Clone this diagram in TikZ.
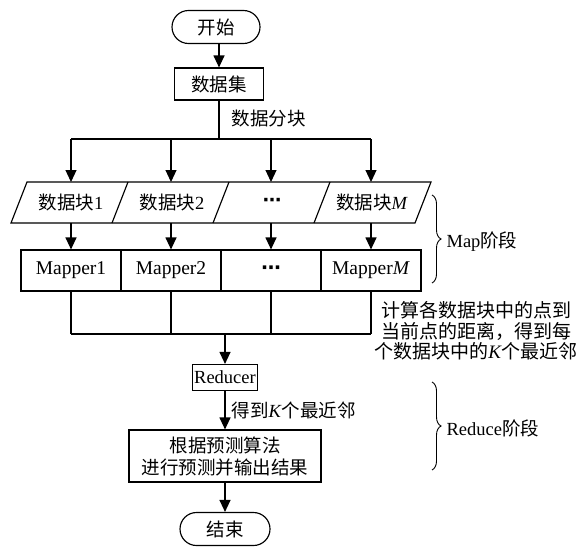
\documentclass[tikz,border=0pt]{standalone}
\usepackage{fontspec}
\setmainfont{Liberation Serif}
\newfontfamily\cjk{Noto Sans CJK SC}
\newfontfamily\dv{DejaVu Sans}
\usetikzlibrary{arrows.meta,decorations.pathreplacing}
\newcommand{\mydots}{{\dv\bfseries ⋯}}
\begin{document}
\begin{tikzpicture}[x=1pt,y=-1pt,
  line width=1.15pt,
  font=\fontsize{18.5}{21}\selectfont,
  arr/.style={-{Triangle[length=12pt,width=11pt]}},
  box/.style={draw,rectangle,inner sep=0pt},
  term/.style={draw,rectangle,rounded corners=16.5pt,inner sep=0pt,minimum width=88pt,minimum height=33pt},
  blk/.style={inner sep=0pt,minimum height=41pt},
  mbox/.style={box,minimum width=100pt,minimum height=41pt,font=\fontsize{19.5}{21}\selectfont},
  lbl/.style={inner sep=0pt,anchor=west},
  brc/.style={decorate,decoration={brace,amplitude=9pt},line width=0.9pt}
]
\useasboundingbox (0,0) rectangle (577,546);

% top part
\node[term] (start) at (216,27) {{\cjk 开始}};
\node[box,minimum width=89pt,minimum height=32pt] (data) at (219,84) {{\cjk 数据集}};
\draw[arr] (start.south -| data) -- (data.north);
\coordinate (split) at (219,139);
\draw (data.south) -- (split);
\node[lbl] (lsplit) at (231,118) {{\cjk 数据分块}};

\coordinate (h1) at (71,139);
\coordinate (h2) at (171,139);
\coordinate (h3) at (271,139);
\coordinate (h4) at (371,139);
\draw (h1) -- (h4);

% data blocks (parallelograms)
\node[blk] (b1) at (71,202.5) {{\cjk 数据块}1};
\node[blk] (b2) at (172,202.5) {{\cjk 数据块}2};
\node[blk] (b3) at (272,202.5) {\mydots};
\node[blk] (b4) at (372,202.5) {{\cjk 数据块}\textit{M}};
\draw (11,223) -- (27,182) -- (431,182) -- (415,223) -- cycle;
\draw (112,223) -- (128,182);
\draw (213,223) -- (229,182);
\draw (314,223) -- (330,182);

\foreach \i/\x in {1/71,2/171,3/271,4/371}{
  \draw[arr] (h\i) -- (\x,182);
}

% mappers
\node[mbox] (m1) at (71,270.5) {Mapper1};
\node[mbox] (m2) at (171,270.5) {Mapper2};
\node[mbox] (m3) at (271,270.5) {\mydots};
\node[mbox] (m4) at (371,270.5) {Mapper\textit{M}};
\foreach \i/\x in {1/71,2/171,3/271,4/371}{
  \draw[arr] (\x,223) -- (m\i.north);
}

\coordinate (g1) at (71,334);
\coordinate (g2) at (171,334);
\coordinate (g3) at (271,334);
\coordinate (g4) at (371,334);
\foreach \i in {1,2,3,4}{ \draw (m\i.south) -- (g\i); }
\draw (g1) -- (g4);
\coordinate (merge) at (225,334);

% right note
\node[align=center,inner sep=0pt,font=\fontsize{19}{20.5}\selectfont] (note) at (476,331)
  {{\cjk 计算各数据块中的点到}\\{\cjk 当前点的距离，得到每}\\{\cjk 个数据块中的}\textit{K}{\cjk 个最近邻}};

% lower part
\node[box,minimum width=65pt,minimum height=26pt] (red) at (225,377.5) {Reducer};
\draw[arr] (merge) -- (red.north);
\node[box,minimum width=192pt,minimum height=52pt,align=center,font=\fontsize{18.5}{22}\selectfont] (pred) at (225,456)
  {{\cjk 根据预测算法}\\{\cjk 进行预测并输出结果}};
\draw[arr] (red.south) -- (pred.north);
\node[lbl] (lk) at (231,410) {{\cjk 得到}\textit{K}{\cjk 个最近邻}};
\node[term,minimum width=90pt] (end) at (225,529) {{\cjk 结束}};
\draw[arr] (pred.south) -- (end.north);

% braces
\draw[brc] (432,195) -- (432,283);
\node[lbl] (map) at (446,242) {Map{\cjk 阶段}};
\draw[brc] (432,382) -- (432,470);
\node[lbl] (reduce) at (446,428) {Reduce{\cjk 阶段}};
\end{tikzpicture}
\end{document}
